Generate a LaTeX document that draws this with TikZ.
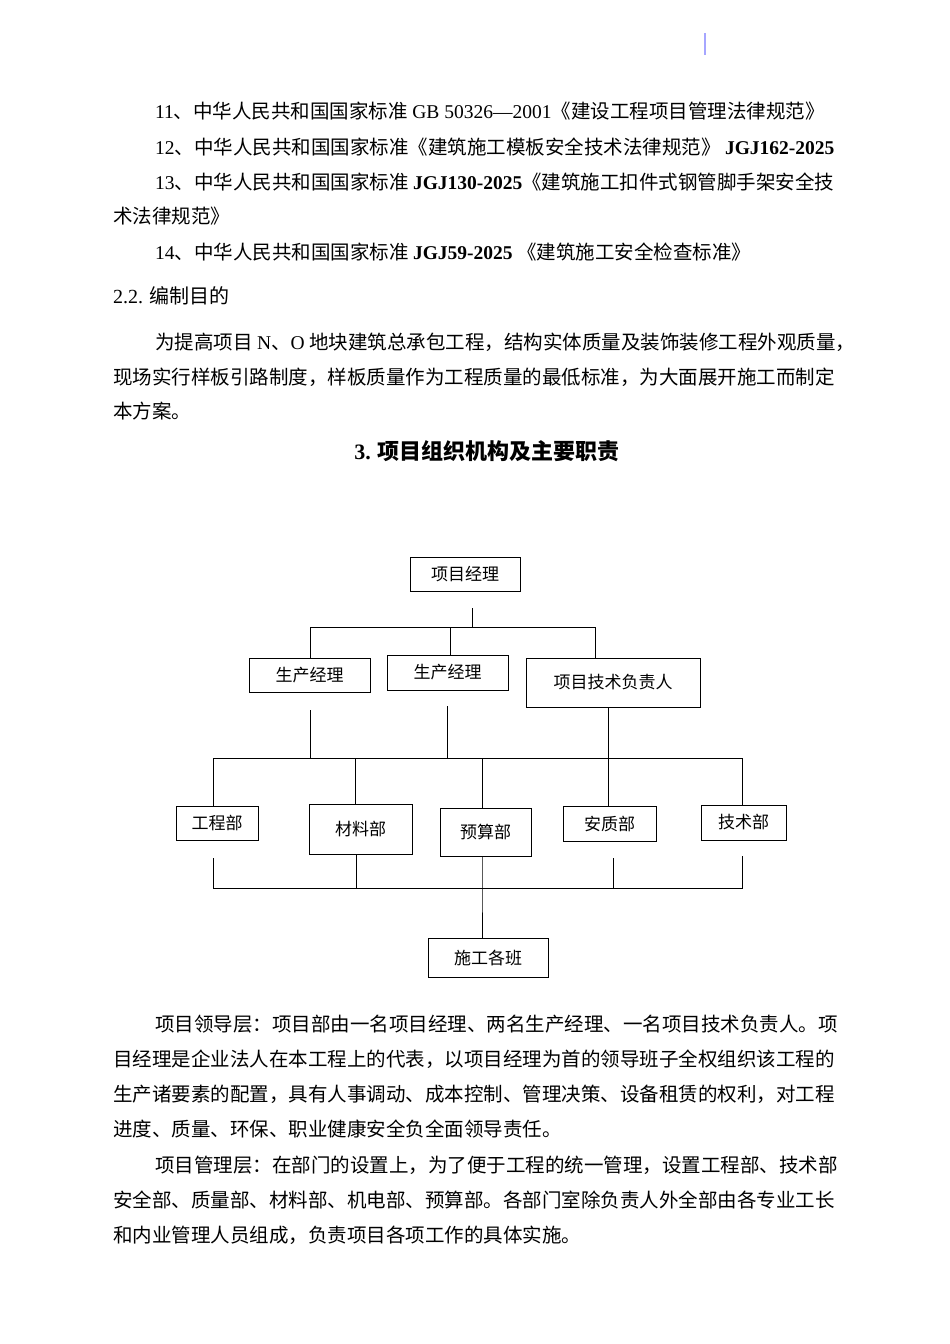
\documentclass[tikz,border=0pt]{standalone}
\usepackage{fontspec}
\setmainfont{Liberation Serif}
\newfontfamily\cjk{Noto Sans CJK SC}
\newfontfamily\latser{Liberation Serif}
\newcommand{\lt}[1]{{\latser #1}}
\begin{document}
\begin{tikzpicture}[x=1pt,y=-1pt,
  txt/.style={anchor=west,inner sep=0pt,font=\cjk\fontsize{19.5}{20}\selectfont},
  box/.style={draw,line width=0.8pt,inner sep=0pt,font=\cjk\fontsize{17}{18}\selectfont},
  ln/.style={line width=0.8pt}]
\useasboundingbox (0,0) rectangle (950,1344);
\draw[line width=1.5pt,color=blue!35] (705,33) -- (705,55);
\node[txt] (l1) at (155,111) {\lt{11}、中华人民共和国国家标准 \lt{GB 50326—2001}《建设工程项目管理法律规范》};
\node[txt] (l2) at (155,147) {\lt{12}、中华人民共和国国家标准《建筑施工模板安全技术法律规范》 \lt{\bfseries JGJ162-2025}};
\node[txt] (l3) at (155,182) {\lt{13}、中华人民共和国国家标准 \lt{\bfseries JGJ130-2025}《建筑施工扣件式钢管脚手架安全技};
\node[txt] (l4) at (113,216) {术法律规范》};
\node[txt] (l5) at (155,252) {\lt{14}、中华人民共和国国家标准 \lt{\bfseries JGJ59-2025} 《建筑施工安全检查标准》};
\node[txt,font=\cjk\fontsize{20}{21}\selectfont] (h22) at (113,296) {\lt{2.2.} 编制目的};
\node[txt] (p1) at (155,342) {为提高项目 \lt{N}、\lt{O} 地块建筑总承包工程，结构实体质量及装饰装修工程外观质量，};
\node[txt] (p2) at (113,377) {现场实行样板引路制度，样板质量作为工程质量的最低标准，为大面展开施工而制定};
\node[txt] (p3) at (113,411) {本方案。};
\node[inner sep=0pt,font=\cjk\bfseries\fontsize{22}{23}\selectfont] (title) at (487,451) {\lt{\bfseries 3.} 项目组织机构及主要职责};
% chart
\node[box,minimum width=110,minimum height=34] (pm) at (465,574) {项目经理};
\node[box,minimum width=121,minimum height=34] (s1) at (309.5,675) {生产经理};
\node[box,minimum width=121,minimum height=35] (s2) at (447.5,672.5) {生产经理};
\node[box,minimum width=174,minimum height=49] (te) at (613,682.5) {项目技术负责人};
\node[box,minimum width=82,minimum height=34] (d1) at (217,823) {工程部};
\node[box,minimum width=103,minimum height=50] (d2) at (360.5,829) {材料部};
\node[box,minimum width=91,minimum height=48] (d3) at (485.5,832) {预算部};
\node[box,minimum width=93,minimum height=35] (d4) at (609.5,823.5) {安质部};
\node[box,minimum width=85,minimum height=35] (d5) at (743.5,822.5) {技术部};
\node[box,minimum width=120,minimum height=39] (sg) at (488,957.5) {施工各班};
\coordinate (a1) at (472,608); \coordinate (a2) at (472,627);
\coordinate (h1l) at (310,627); \coordinate (h1r) at (595,627);
\draw[ln] (a1) -- (a2);
\draw[ln] (s1.north -| h1l) -- (h1l) -- (h1r) -- (h1r |- te.north);
\draw[ln] (s2.north -| 450,0) -- (450,627);
\coordinate (hl) at (213,758); \coordinate (hr) at (742,758);
\draw[ln] (310,710) -- (310,758);
\draw[ln] (447,706) -- (447,758);
\draw[ln] (te.south -| 608,0) -- (608,758);
\draw[ln] (d1.north -| hl) -- (hl) -- (hr) -- (d5.north -| hr);
\draw[ln] (d2.north -| 355,0) -- (355,758);
\draw[ln] (d3.north -| 482,0) -- (482,758);
\draw[ln] (d4.north -| 608,0) -- (608,758);
\coordinate (bl) at (213,888); \coordinate (br) at (742,888);
\draw[ln] (213,858) -- (bl) -- (br) -- (742,856);
\draw[ln] (d2.south -| 356,0) -- (356,888);
\draw[ln] (d3.south -| 482,0) -- (482,888) -- (sg.north -| 482,0);
\draw[ln] (613,858) -- (613,888);
% bottom text
\node[txt] (q1) at (155,1024) {项目领导层：项目部由一名项目经理、两名生产经理、一名项目技术负责人。项};
\node[txt] (q2) at (113,1059) {目经理是企业法人在本工程上的代表，以项目经理为首的领导班子全权组织该工程的};
\node[txt] (q3) at (113,1094) {生产诸要素的配置，具有人事调动、成本控制、管理决策、设备租赁的权利，对工程};
\node[txt] (q4) at (113,1129) {进度、质量、环保、职业健康安全负全面领导责任。};
\node[txt] (q5) at (155,1165) {项目管理层：在部门的设置上，为了便于工程的统一管理，设置工程部、技术部};
\node[txt] (q6) at (113,1200) {安全部、质量部、材料部、机电部、预算部。各部门室除负责人外全部由各专业工长};
\node[txt] (q7) at (113,1235) {和内业管理人员组成，负责项目各项工作的具体实施。};
\end{tikzpicture}
\end{document}
